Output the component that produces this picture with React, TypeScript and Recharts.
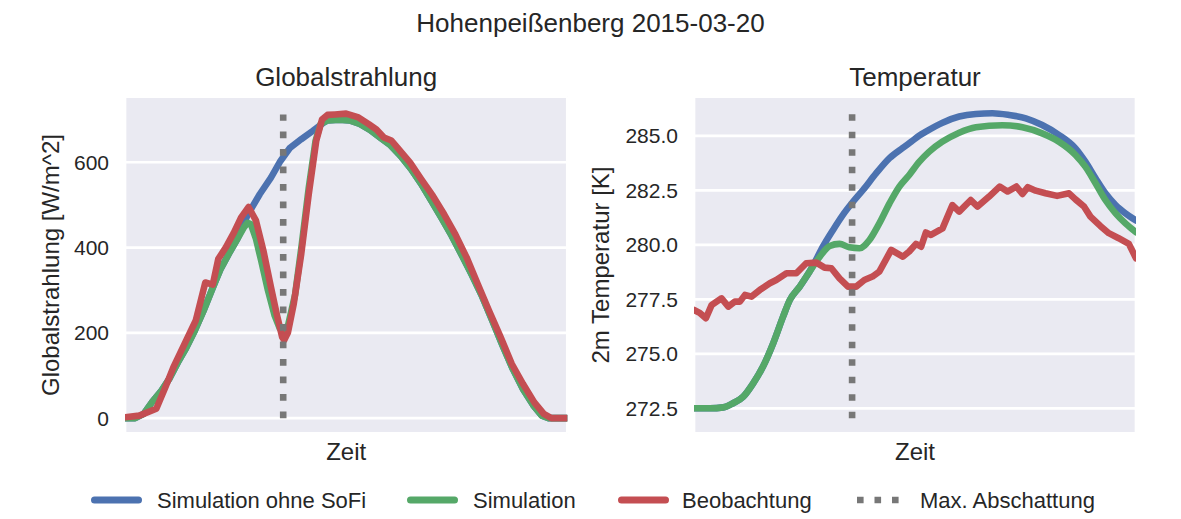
import React from "react";
import { LineChart, Line, XAxis, YAxis, CartesianGrid, ReferenceLine } from "recharts";

// ---------- data (time in hours) ----------
const X_TICKS = [7, 9, 11, 13, 15, 17];
const GLOB_TICKS = [0, 200, 400, 600];
const TEMP_TICKS = [272.5, 275.0, 277.5, 280.0, 282.5, 285.0];
const MAX_SHADOW_T = 10.65;
const GLOB_VLINE = [0, 712];
const TEMP_VLINE = [272.05, 286.0];

// Globalstrahlung
const GLOB_SIM_T = [6.0, 6.3, 6.55, 6.8, 7.05, 7.3, 7.55, 7.8, 8.05, 8.3, 8.55, 8.8, 9.05, 9.3, 9.5, 9.6, 9.7, 9.85, 10.0, 10.2, 10.4, 10.55, 10.68, 10.8, 11.0, 11.2, 11.4, 11.6, 11.75, 11.95, 12.3, 12.6, 12.9, 13.2, 13.5, 13.8, 14.1, 14.4, 14.7, 15.0, 15.3, 15.6, 15.9, 16.2, 16.5, 16.8, 17.1, 17.4, 17.7, 18.0, 18.25, 18.45, 19.0];
const GLOB_SIM_V = [0, 0, 10, 38, 62, 92, 130, 165, 205, 250, 300, 348, 385, 420, 448, 458, 455, 420, 370, 300, 240, 210, 203, 220, 290, 410, 540, 650, 690, 698, 700, 698, 690, 676, 658, 640, 615, 585, 550, 510, 470, 428, 382, 335, 285, 228, 170, 115, 68, 30, 6, 0, 0];

const GLOB_NOSOFI_T = [6.0, 6.3, 6.55, 6.8, 7.05, 7.3, 7.55, 7.8, 8.05, 8.3, 8.55, 8.8, 9.05, 9.3, 9.45, 9.6, 9.96, 10.29, 10.57, 10.85, 11.18, 11.51, 11.84, 11.95, 12.3, 12.6, 12.9, 13.2, 13.5, 13.8, 14.1, 14.4, 14.7, 15.0, 15.3, 15.6, 15.9, 16.2, 16.5, 16.8, 17.1, 17.4, 17.7, 18.0, 18.25, 18.45, 19.0];
const GLOB_NOSOFI_V = [0, 0, 10, 38, 62, 92, 130, 165, 205, 250, 300, 348, 385, 420, 445, 476, 525, 564, 603, 634, 654, 673, 693, 698, 700, 698, 690, 676, 658, 640, 615, 585, 550, 510, 470, 428, 382, 335, 285, 228, 170, 115, 68, 30, 6, 0, 0];

const GLOB_OBS_T = [6.0, 6.42, 6.92, 7.19, 7.42, 7.75, 8.08, 8.36, 8.58, 8.74, 8.96, 9.2, 9.41, 9.63, 9.85, 10.07, 10.29, 10.46, 10.62, 10.68, 10.79, 10.96, 11.18, 11.4, 11.62, 11.79, 11.95, 12.17, 12.5, 12.84, 13.17, 13.39, 13.61, 13.83, 14.05, 14.38, 14.71, 15.05, 15.38, 15.71, 16.04, 16.37, 16.7, 17.04, 17.37, 17.7, 18.03, 18.31, 18.53, 19.0];
const GLOB_OBS_V = [2, 6, 22, 73, 119, 174, 229, 318, 313, 373, 400, 435, 470, 495, 463, 392, 307, 244, 190, 183, 201, 268, 385, 525, 650, 700, 711, 712, 714, 706, 689, 677, 658, 651, 630, 599, 560, 521, 478, 431, 377, 314, 252, 190, 127, 80, 37, 10, 0, 0];

// Temperatur
const TEMP_SIM_T = [6.0, 6.47, 6.86, 7.15, 7.45, 7.74, 8.03, 8.33, 8.62, 8.82, 9.11, 9.4, 9.7, 9.99, 10.28, 10.57, 10.87, 11.16, 11.45, 11.75, 12.04, 12.33, 12.63, 12.92, 13.31, 13.8, 14.29, 15.07, 15.66, 16.24, 16.73, 17.22, 17.51, 17.81, 18.1, 18.4, 18.69, 19.0];
const TEMP_SIM_V = [272.51, 272.51, 272.55, 272.74, 273.04, 273.65, 274.42, 275.49, 276.71, 277.48, 278.09, 278.78, 279.46, 279.95, 280.05, 279.89, 279.85, 280.23, 280.99, 281.91, 282.68, 283.21, 283.82, 284.28, 284.74, 285.15, 285.4, 285.49, 285.4, 285.12, 284.74, 284.13, 283.59, 282.83, 282.06, 281.45, 280.99, 280.58];

const TEMP_NOSOFI_T = [6.0, 6.47, 6.86, 7.15, 7.45, 7.74, 8.03, 8.33, 8.62, 8.82, 9.11, 9.4, 9.55, 9.79, 10.09, 10.38, 10.64, 10.97, 11.36, 11.75, 12.14, 12.4, 12.63, 12.82, 13.31, 13.8, 14.29, 14.78, 15.27, 15.76, 16.24, 16.73, 17.22, 17.51, 17.81, 18.1, 18.4, 18.69, 19.0];
const TEMP_NOSOFI_V = [272.51, 272.51, 272.55, 272.74, 273.04, 273.65, 274.42, 275.49, 276.71, 277.48, 278.09, 278.78, 279.2, 279.92, 280.69, 281.38, 281.91, 282.52, 283.29, 283.98, 284.45, 284.75, 285.02, 285.2, 285.61, 285.89, 286.01, 286.04, 285.96, 285.81, 285.5, 285.05, 284.43, 283.82, 283.06, 282.37, 281.83, 281.45, 281.12];

const TEMP_OBS_T = [6.0, 6.18, 6.35, 6.52, 6.81, 7.01, 7.2, 7.35, 7.5, 7.69, 7.94, 8.23, 8.42, 8.72, 9.01, 9.3, 9.6, 9.84, 10.04, 10.28, 10.53, 10.77, 11.01, 11.25, 11.45, 11.8, 12.14, 12.33, 12.53, 12.68, 12.82, 12.97, 13.31, 13.6, 13.8, 14.14, 14.34, 14.68, 14.99, 15.22, 15.48, 15.66, 15.82, 16.05, 16.34, 16.68, 17.03, 17.22, 17.47, 17.66, 17.95, 18.2, 18.49, 18.79, 19.0];
const TEMP_OBS_V = [277.02, 276.87, 276.64, 277.25, 277.55, 277.17, 277.4, 277.4, 277.71, 277.63, 277.94, 278.24, 278.39, 278.7, 278.7, 279.16, 279.19, 278.96, 278.93, 278.47, 278.09, 278.09, 278.39, 278.55, 278.78, 279.77, 279.46, 279.7, 280.05, 279.92, 280.57, 280.46, 280.76, 281.83, 281.53, 282.06, 281.76, 282.22, 282.68, 282.45, 282.68, 282.34, 282.65, 282.49, 282.37, 282.25, 282.37, 282.09, 281.76, 281.3, 280.87, 280.54, 280.31, 280.05, 279.39];

const SERIES_NAMES = ["Simulation ohne SoFi", "Simulation", "Beobachtung", "Max. Abschattung"];

// ---------- styles ----------
const FONT = '"Liberation Sans", Arial, Helvetica, sans-serif';
const TEXT = "#262626";
const BLUE = "#4C72B0";
const GREEN = "#55A868";
const RED = "#C44E52";
const GRAY = "#777777";
const BG = "#EAEAF2";
const LW = 6.6;
const DASH = "6.6 10.9";

const toRows = (ts: number[], vs: number[]) => ts.map((t, i) => ({ t, v: vs[i] }));

const lineProps = {
  dataKey: "v",
  dot: false,
  activeDot: false,
  strokeWidth: LW,
  strokeLinejoin: "round" as const,
  strokeLinecap: "round" as const,
  isAnimationActive: false,
};

function Panel(props: {
  width: number;
  margin: { top: number; right: number; bottom: number; left: number };
  yWidth: number;
  domain: [number, number];
  ticks: number[];
  fmt?: (v: number) => string;
  blue: { t: number; v: number }[];
  green: { t: number; v: number }[];
  red: { t: number; v: number }[];
  vline: number[];
  smooth: boolean;
}) {
  return (
    <LineChart width={props.width} height={519} margin={props.margin}>
      <CartesianGrid fill={BG} fillOpacity={1} stroke="#FFFFFF" strokeWidth={2.7} />
      <XAxis
        type="number"
        dataKey="t"
        domain={[6, 19]}
        ticks={X_TICKS}
        tick={false}
        axisLine={false}
        tickLine={false}
        height={0}
        allowDataOverflow
      />
      <YAxis
        type="number"
        domain={props.domain}
        ticks={props.ticks}
        width={props.yWidth}
        axisLine={false}
        tickLine={false}
        tickSize={0}
        tickMargin={16}
        tickFormatter={props.fmt}
        tick={{ fontSize: 21, fill: TEXT, fontFamily: FONT }}
        allowDataOverflow
      />
      <Line {...lineProps} data={props.blue} stroke={BLUE} type={props.smooth ? "monotone" : "linear"} />
      <Line {...lineProps} data={props.green} stroke={GREEN} type={props.smooth ? "monotone" : "linear"} />
      <Line {...lineProps} data={props.red} stroke={RED} type="linear" />
      <ReferenceLine
        segment={[
          { x: MAX_SHADOW_T, y: props.vline[0] },
          { x: MAX_SHADOW_T, y: props.vline[1] },
        ]}
        stroke={GRAY}
        strokeWidth={LW}
        strokeDasharray={DASH}
        ifOverflow="visible"
      />
    </LineChart>
  );
}

export default function App() {
  const legendItems = [
    { x: 91, tx: 157, color: BLUE, dotted: false },
    { x: 407, tx: 473, color: GREEN, dotted: false },
    { x: 618, tx: 682, color: RED, dotted: false },
    { x: 857, tx: 920, color: GRAY, dotted: true },
  ];
  return (
    <div
      style={{
        position: "absolute",
        left: 0,
        top: 0,
        width: 1181,
        height: 519,
        background: "#FFFFFF",
        fontFamily: FONT,
        overflow: "hidden",
      }}
    >
      <div style={{ position: "absolute", left: 0, top: 0 }}>
        <Panel
          width={590}
          margin={{ top: 96.7, right: 22.7, bottom: 85.7, left: 65 }}
          yWidth={60}
          domain={[-35.5, 753.7]}
          ticks={GLOB_TICKS}
          blue={toRows(GLOB_NOSOFI_T, GLOB_NOSOFI_V)}
          green={toRows(GLOB_SIM_T, GLOB_SIM_V)}
          red={toRows(GLOB_OBS_T, GLOB_OBS_V)}
          vline={GLOB_VLINE}
          smooth={false}
        />
      </div>
      <div style={{ position: "absolute", left: 590, top: 0 }}>
        <Panel
          width={591}
          margin={{ top: 96.7, right: 45, bottom: 85.7, left: 24 }}
          yWidth={80}
          domain={[271.36, 286.8]}
          ticks={TEMP_TICKS}
          fmt={(v: number) => v.toFixed(1)}
          blue={toRows(TEMP_NOSOFI_T, TEMP_NOSOFI_V)}
          green={toRows(TEMP_SIM_T, TEMP_SIM_V)}
          red={toRows(TEMP_OBS_T, TEMP_OBS_V)}
          vline={TEMP_VLINE}
          smooth={true}
        />
      </div>
      <svg
        width={1181}
        height={519}
        style={{ position: "absolute", left: 0, top: 0, pointerEvents: "none" }}
        fontFamily={FONT}
        fill={TEXT}
      >
        <text x={590.5} y={32} fontSize={26} textAnchor="middle">
          Hohenpeißenberg 2015-03-20
        </text>
        <text x={346.2} y={85.7} fontSize={26} textAnchor="middle">
          Globalstrahlung
        </text>
        <text x={915} y={85.7} fontSize={26} textAnchor="middle">
          Temperatur
        </text>
        <text x={346.2} y={460} fontSize={24} textAnchor="middle">
          Zeit
        </text>
        <text x={915} y={460} fontSize={24} textAnchor="middle">
          Zeit
        </text>
        <text x={59} y={265} fontSize={24} textAnchor="middle" transform="rotate(-90 59 265)">
          Globalstrahlung [W/m^2]
        </text>
        <text x={609} y={265} fontSize={24} textAnchor="middle" transform="rotate(-90 609 265)">
          2m Temperatur [K]
        </text>
        {legendItems.map((it, i) =>
          it.dotted ? (
            <line key={"l" + i} x1={it.x} x2={it.x + 49} y1={500} y2={500} stroke={it.color} strokeWidth={LW} strokeDasharray={DASH} />
          ) : (
            <line key={"l" + i} x1={it.x + 3.5} x2={it.x + 47.5} y1={500} y2={500} stroke={it.color} strokeWidth={7} strokeLinecap="round" />
          )
        )}
        {legendItems.map((it, i) => (
          <text key={"t" + i} x={it.tx} y={507.5} fontSize={22}>
            {SERIES_NAMES[i]}
          </text>
        ))}
      </svg>
    </div>
  );
}
